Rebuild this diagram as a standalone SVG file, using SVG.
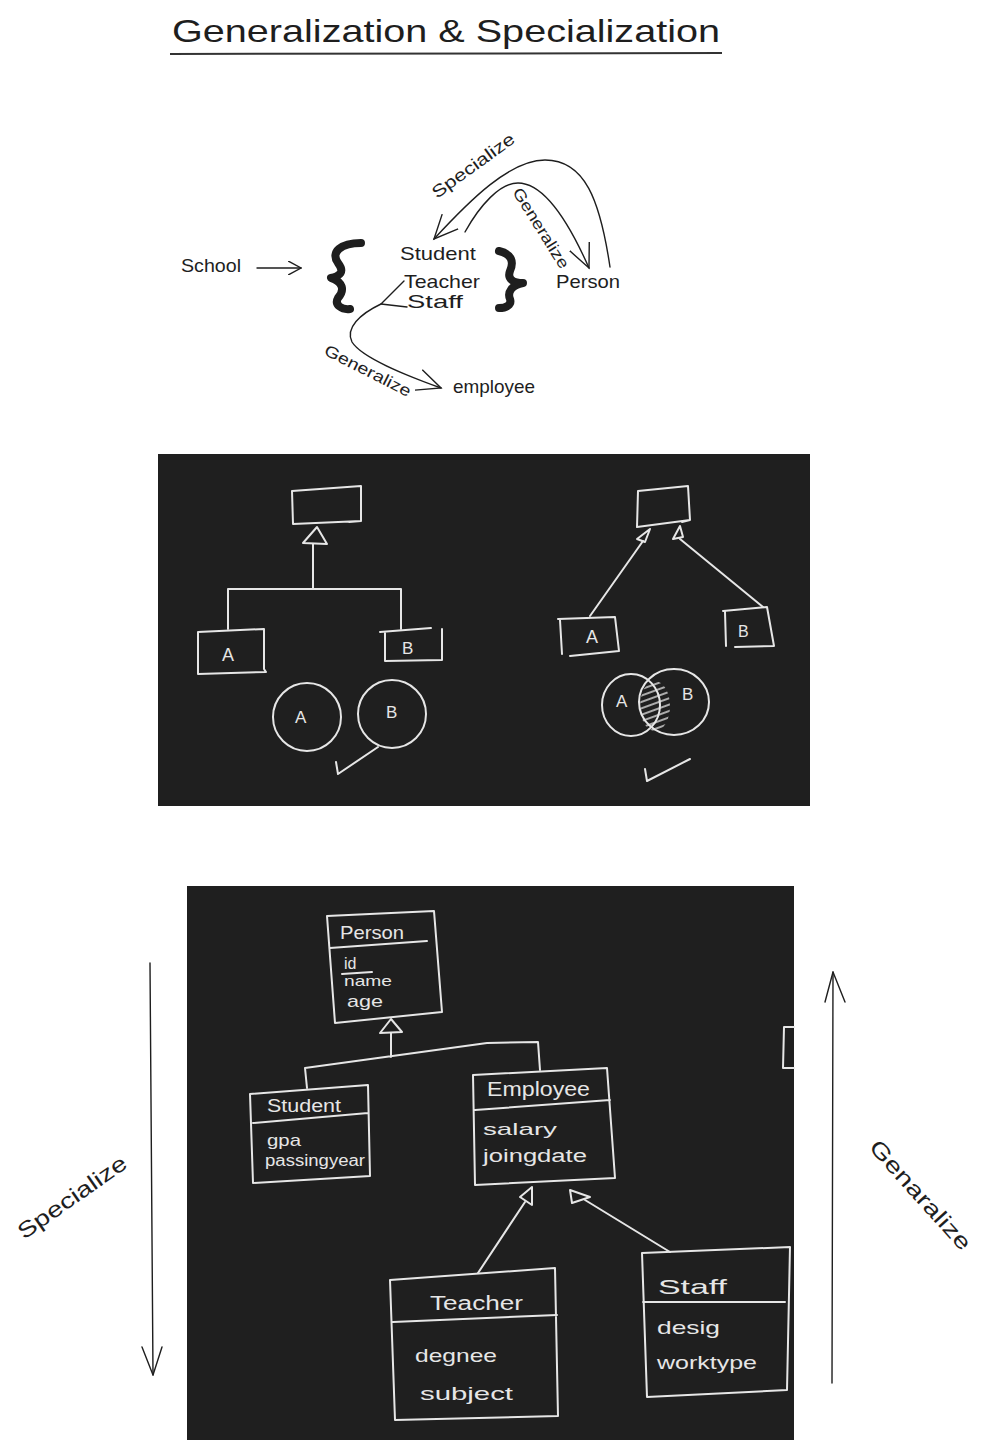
<svg xmlns="http://www.w3.org/2000/svg" width="989" height="1447" viewBox="0 0 989 1447">
  <style>
    .ink { font-family: "Liberation Sans", "DejaVu Sans", sans-serif; fill: #1e1e1e; }
    .chalk { font-family: "Liberation Sans", "DejaVu Sans", sans-serif; fill: #e6e6e6; }
    .line { fill: none; stroke: #1e1e1e; stroke-width: 1.4; stroke-linecap: round; stroke-linejoin: round; }
    .brace { fill: none; stroke: #1e1e1e; stroke-width: 8; stroke-linecap: round; stroke-linejoin: round; }
    .board { fill: #1f1f1f; }
    .cl { fill: none; stroke: #e6e6e6; stroke-width: 2; stroke-linecap: round; stroke-linejoin: round; }
    .tri { fill: #1f1f1f; stroke: #e6e6e6; stroke-width: 2; stroke-linejoin: round; }
  </style>
  <defs>
    <marker id="open" viewBox="0 0 12 12" refX="11" refY="6" markerWidth="14" markerHeight="14" markerUnits="userSpaceOnUse" orient="auto">
      <path d="M0,0 L11,6 L0,12" fill="none" stroke="#1e1e1e" stroke-width="1.2"/>
    </marker>
    <marker id="openBig" viewBox="0 0 12 12" refX="11" refY="6" markerWidth="26" markerHeight="26" markerUnits="userSpaceOnUse" orient="auto">
      <path d="M0,1 L11,6 L0,11" fill="none" stroke="#1e1e1e" stroke-width="0.65"/>
    </marker>
    <pattern id="hatch" patternUnits="userSpaceOnUse" width="6" height="6" patternTransform="rotate(-20)">
      <rect width="6" height="6" fill="#1f1f1f"/>
      <line x1="0" y1="3" x2="6" y2="3" stroke="#d0d0d0" stroke-width="1.6"/>
    </pattern>
  </defs>

  <rect width="989" height="1447" fill="#ffffff"/>

  <!-- heading -->
  <g id="title">
    <text class="ink" x="172" y="42" font-size="32" textLength="548" lengthAdjust="spacingAndGlyphs">Generalization &amp; Specialization</text>
    <line x1="170" y1="54" x2="722" y2="53" stroke="#333" stroke-width="2"/>
  </g>

  <!-- upper sketch: school roles -->
  <g id="school"><text class="ink" x="181" y="272" font-size="18" textLength="60" lengthAdjust="spacingAndGlyphs">School</text></g>
  <g id="brace-left"><path class="brace" d="M361,243 C341,243 330,252 338,263 C345,272 340,276 331,278 C343,282 345,290 338,298 C334,305 342,310 350,309"/></g>
  <g id="student"><text class="ink" x="400" y="260" font-size="19" textLength="76" lengthAdjust="spacingAndGlyphs">Student</text></g>
  <g id="teacher"><text class="ink" x="404" y="288" font-size="19" textLength="76" lengthAdjust="spacingAndGlyphs">Teacher</text></g>
  <g id="staff"><text class="ink" x="407" y="308" font-size="19" textLength="56" lengthAdjust="spacingAndGlyphs">Staff</text></g>
  <g id="brace-right"><path class="brace" d="M499,251 C512,254 514,262 510,271 C507,279 513,283 523,283 C512,285 507,292 510,299 C512,305 506,308 499,308"/></g>
  <g id="person"><text class="ink" x="556" y="288" font-size="19" textLength="64" lengthAdjust="spacingAndGlyphs">Person</text></g>
  <g id="employee"><text class="ink" x="453" y="393" font-size="19" textLength="82" lengthAdjust="spacingAndGlyphs">employee</text></g>

  <g id="connectors">
    <!-- School to roles -->
    <path class="line" d="M257,268 L301,268" marker-end="url(#open)"/>
    <!-- Person to Student -->
    <path class="line" d="M610,267 C600,200 585,160 545,160 C510,160 470,200 434,239" marker-end="url(#openBig)"/>
    <!-- Student to Person -->
    <path class="line" d="M465,232 C480,205 500,183 518,183 C545,183 570,225 589,268" marker-end="url(#openBig)"/>
    <!-- Teacher / Staff bracket -->
    <path class="line" d="M404,281 L381,304 L407,307"/>
    <!-- Teacher, Staff to employee -->
    <path class="line" d="M381,304 C360,314 345,328 352,342 C362,358 405,375 441,388" marker-end="url(#openBig)"/>

    <!-- edge labels -->
    <text class="ink" font-size="17" transform="translate(437,199) rotate(-36)" textLength="98" lengthAdjust="spacingAndGlyphs">Specialize</text>
    <text class="ink" font-size="16" transform="translate(512,192) rotate(58)" textLength="92" lengthAdjust="spacingAndGlyphs">Generalize</text>
    <text class="ink" font-size="16" transform="translate(323,354) rotate(27)" textLength="95" lengthAdjust="spacingAndGlyphs">Generalize</text>

    <!-- side arrows -->
    <path class="line" d="M150,963 L153,1375" stroke-width="1.6"/>
    <path class="line" d="M142,1347 L153,1375 L162,1347"/>
    <path class="line" d="M832,1383 L833,972" stroke-width="1.6"/>
    <path class="line" d="M825,1002 L833,972 L845,1002"/>
    <text class="ink" font-size="22" transform="translate(24,1240) rotate(-35)" textLength="128" lengthAdjust="spacingAndGlyphs">Specialize</text>
    <text class="ink" font-size="22" transform="translate(868,1148) rotate(48)" textLength="140" lengthAdjust="spacingAndGlyphs">Genaralize</text>
  </g>

  <!-- board 1: disjoint vs overlapping -->
  <g id="board-disjoint-overlap">
    <rect class="board" x="158" y="454" width="652" height="352"/>

    <!-- disjoint -->
    <path class="cl" d="M292,491 L361,486 L361,521 L349,522 M361,521 L293,524 L292,491"/>
    <polygon class="tri" points="317,527 303,543 327,544"/>
    <path class="cl" d="M313,544 L313,588 M228,589 L401,589 M228,589 L228,629 M401,589 L401,629"/>
    <path class="cl" d="M198,632 L264,629 L264,669 L266,672 L198,674 Z"/>
    <text class="chalk" x="222" y="661" font-size="18">A</text>
    <path class="cl" d="M380,632 L431,628 M385,632 L385,661 L442,660 L442,629"/>
    <text class="chalk" x="402" y="654" font-size="17">B</text>
    <circle class="cl" cx="307" cy="717" r="34"/>
    <text class="chalk" x="295" y="723" font-size="17">A</text>
    <circle class="cl" cx="392" cy="714" r="34"/>
    <text class="chalk" x="386" y="718" font-size="17">B</text>
    <path class="cl" d="M336,762 L338,774 L378,747"/>

    <!-- overlapping -->
    <path class="cl" d="M638,491 L688,486 L690,520 L682,522 M690,520 L637,527 L638,491"/>
    <polygon class="tri" points="650,529 637,539 645,542"/>
    <polygon class="tri" points="680,526 673,539 683,537"/>
    <path class="cl" d="M643,541 L590,616 M680,539 L763,607"/>
    <path class="cl" d="M558,619 L615,617 L619,651 L570,656 M560,620 L562,654"/>
    <text class="chalk" x="586" y="643" font-size="18">A</text>
    <path class="cl" d="M723,611 L767,607 L774,646 L735,647 M725,612 L726,646"/>
    <text class="chalk" x="738" y="637" font-size="16">B</text>
    <ellipse cx="655" cy="706" rx="15" ry="25" fill="url(#hatch)"/>
    <ellipse class="cl" cx="631" cy="705" rx="29" ry="31"/>
    <ellipse class="cl" cx="674" cy="702" rx="35" ry="33"/>
    <text class="chalk" x="616" y="707" font-size="17">A</text>
    <text class="chalk" x="682" y="700" font-size="17">B</text>
    <path class="cl" d="M645,769 L647,781 L690,759"/>
  </g>

  <!-- board 2: class hierarchy -->
  <g id="board-hierarchy">
    <rect class="board" x="187" y="886" width="607" height="554"/>

    <g id="cls-person">
      <path class="cl" d="M327,916 L434,911 L442,1012 L335,1023 Z M330,948 L427,941"/>
      <text class="chalk" x="340" y="939" font-size="19" textLength="64" lengthAdjust="spacingAndGlyphs">Person</text>
      <text class="chalk" x="344" y="969" font-size="16">id</text>
      <path class="cl" d="M342,974 L372,972"/>
      <text class="chalk" x="344" y="986" font-size="15" textLength="48" lengthAdjust="spacingAndGlyphs">name</text>
      <text class="chalk" x="347" y="1007" font-size="17" textLength="36" lengthAdjust="spacingAndGlyphs">age</text>
    </g>

    <g id="cls-student">
      <path class="cl" d="M250,1094 L368,1085 L370,1176 L253,1183 Z M253,1123 L368,1113"/>
      <text class="chalk" x="267" y="1112" font-size="18" textLength="74" lengthAdjust="spacingAndGlyphs">Student</text>
      <text class="chalk" x="267" y="1146" font-size="17" textLength="34" lengthAdjust="spacingAndGlyphs">gpa</text>
      <text class="chalk" x="265" y="1166" font-size="16" textLength="100" lengthAdjust="spacingAndGlyphs">passingyear</text>
    </g>

    <g id="cls-employee">
      <path class="cl" d="M473,1075 L607,1068 L615,1178 L475,1185 Z M475,1110 L610,1100"/>
      <text class="chalk" x="487" y="1096" font-size="20" textLength="103" lengthAdjust="spacingAndGlyphs">Employee</text>
      <text class="chalk" x="483" y="1135" font-size="17" textLength="74" lengthAdjust="spacingAndGlyphs">salary</text>
      <text class="chalk" x="483" y="1162" font-size="18" textLength="104" lengthAdjust="spacingAndGlyphs">joingdate</text>
    </g>

    <g id="cls-teacher">
      <path class="cl" d="M390,1280 L555,1268 L558,1416 L395,1420 Z M393,1322 L557,1315"/>
      <text class="chalk" x="430" y="1310" font-size="20" textLength="93" lengthAdjust="spacingAndGlyphs">Teacher</text>
      <text class="chalk" x="415" y="1362" font-size="19" textLength="82" lengthAdjust="spacingAndGlyphs">degnee</text>
      <text class="chalk" x="420" y="1400" font-size="19" textLength="93" lengthAdjust="spacingAndGlyphs">subject</text>
    </g>

    <g id="cls-staff">
      <path class="cl" d="M642,1253 L790,1247 L787,1390 L647,1397 Z M643,1302 L785,1302"/>
      <text class="chalk" x="658" y="1294" font-size="21" textLength="69" lengthAdjust="spacingAndGlyphs">Staff</text>
      <text class="chalk" x="657" y="1334" font-size="19" textLength="63" lengthAdjust="spacingAndGlyphs">desig</text>
      <text class="chalk" x="657" y="1369" font-size="19" textLength="100" lengthAdjust="spacingAndGlyphs">worktype</text>
    </g>

    <g id="cls-partial">
      <path class="cl" d="M794,1027 L784,1027 L783,1068 L794,1068"/>
    </g>

    <g id="hierarchy-connectors">
      <polygon class="tri" points="391,1019 380,1033 402,1032"/>
      <path class="cl" d="M391,1033 L391,1057 M305,1068 L487,1043 L538,1042 L540,1070 M305,1068 L307,1088"/>
      <polygon class="tri" points="532,1187 520,1197 532,1205"/>
      <path class="cl" d="M525,1202 L478,1273"/>
      <polygon class="tri" points="570,1190 572,1203 590,1197"/>
      <path class="cl" d="M585,1200 L670,1252"/>
    </g>
  </g>
</svg>
